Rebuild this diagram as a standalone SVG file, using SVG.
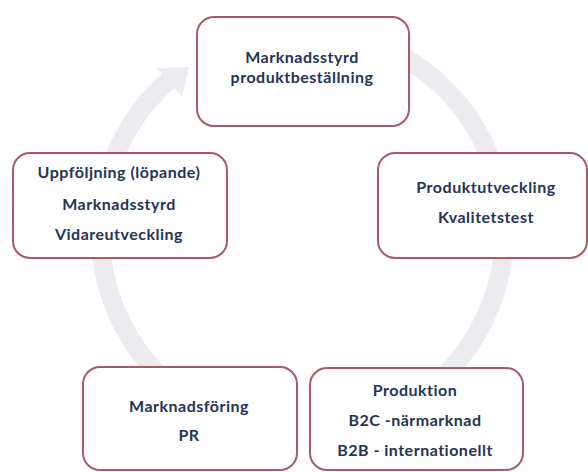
<svg xmlns="http://www.w3.org/2000/svg" width="588" height="472" viewBox="0 0 588 472">
<style>
.box{fill:#ffffff;stroke:#ad5867;stroke-width:2}
.t{font-family:Lato,"Open Sans","Liberation Sans",sans-serif;font-weight:bold;font-size:16px;letter-spacing:0.5px;fill:#233455;text-anchor:middle}
.arc{fill:none;stroke:#ebebf0;stroke-width:19}
</style>
<rect width="588" height="472" fill="#ffffff"/>
<g id="connectors">
<path class="arc" d="M232.9,42.2 A202,202 0 1 1 337.1,430.9"/>
<path class="arc" d="M266.9,430.9 A202,202 0 0 1 169.5,79.6"/>
<polygon points="157,68 182,97 189,67" fill="#ebebf0"/>
</g>
<g id="node-top">
<rect class="box" x="197" y="17" width="212" height="109" rx="17"/>
<text class="t" x="302" y="63">Marknadsstyrd</text>
<text class="t" x="302" y="83">produktbeställning</text>
</g>
<g id="node-right">
<rect class="box" x="378" y="153" width="209" height="105" rx="17"/>
<text class="t" x="486" y="193">Produktutveckling</text>
<text class="t" x="486" y="223">Kvalitetstest</text>
</g>
<g id="node-bottom-right">
<rect class="box" x="310" y="368" width="213" height="102" rx="17"/>
<text class="t" x="415" y="396">Produktion</text>
<text class="t" x="415" y="426">B2C -närmarknad</text>
<text class="t" x="415" y="456">B2B - internationellt</text>
</g>
<g id="node-bottom-left">
<rect class="box" x="83" y="367" width="214" height="103" rx="17"/>
<text class="t" x="189" y="412">Marknadsföring</text>
<text class="t" x="189" y="441">PR</text>
</g>
<g id="node-left">
<rect class="box" x="13" y="153" width="214" height="105" rx="17"/>
<text class="t" x="119" y="178">Uppföljning (löpande)</text>
<text class="t" x="119" y="210">Marknadsstyrd</text>
<text class="t" x="119" y="240">Vidareutveckling</text>
</g>
</svg>
